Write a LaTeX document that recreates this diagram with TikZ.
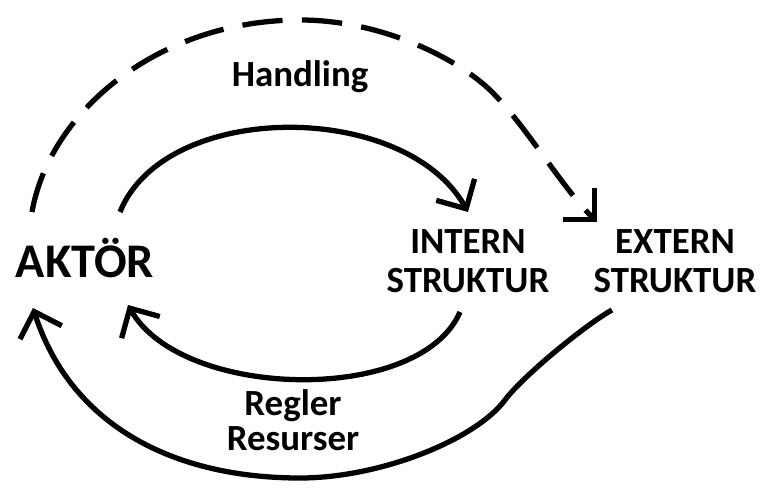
\documentclass[tikz,border=0pt]{standalone}
\usepackage{fontspec}
\setmainfont{Carlito}
\usetikzlibrary{arrows.meta}

\tikzset{
  pfeil/.style={line width=3pt, -{Straight Barb[length=12.5pt,width=25pt]}},
  strich/.style={pfeil, dash pattern=on 23pt off 11pt},
  txt/.style={font=\bfseries\fontsize{21}{22}\selectfont, align=center, inner sep=0pt},
}

\begin{document}
\begin{tikzpicture}[x=0.02cm, y=-0.02cm]
    \useasboundingbox (0,0) rectangle (766,489);

    \node[inner sep=0pt, anchor=base, font=\bfseries\fontsize{27.5}{30}\selectfont] (akt) at (85,277) {AKTÖR};
    \node[txt] (int) at (468,261) {INTERN\\STRUKTUR};
    \node[txt] (ext) at (675,261) {EXTERN\\STRUKTUR};
    \node[txt, anchor=base] (hand) at (300,87) {Handling};
    \node[txt, font=\bfseries\fontsize{21}{20}\selectfont] (regl) at (293,420) {Regler\\Resurser};

    % inre kretsen
    \draw[pfeil] ([shift={(35,-65)}]akt.base) .. controls (165,100) and (405,100) .. ([shift={(0,-49)}]int.center);
    \draw[pfeil] ([shift={(-8,51)}]int.center) .. controls (420,405) and (182,400) .. ([shift={(43,28)}]akt.base);

    % yttre kretsen
    \draw[strich] ([shift={(-53,-65)}]akt.base) .. controls (50,110) and (160,20) .. (300,20)
                  .. controls (380,20) and (455,57) .. (490,90)
                  .. controls (525,124) and (560,185) .. ([shift={(-78,-39)}]ext.center);
    \draw[pfeil] ([shift={(-63,49)}]ext.center) .. controls (585,325) and (523,376) .. (505,400)
                 .. controls (475,440) and (380,478) .. (300,478)
                 .. controls (170,478) and (70,423) .. ([shift={(-52,31)}]akt.base);

\end{tikzpicture}
\end{document}
